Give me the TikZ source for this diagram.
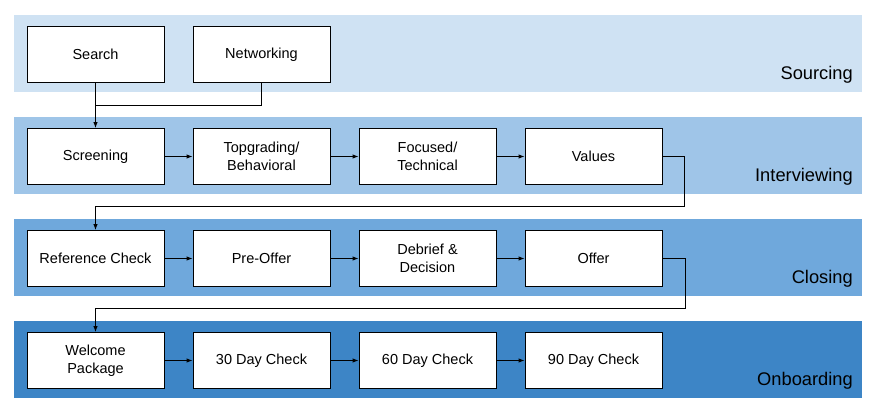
\documentclass[tikz,border=0pt]{standalone}
\usepackage{fontspec}
\setmainfont{Liberation Sans}
\usetikzlibrary{arrows.meta}
\definecolor{bandA}{HTML}{CFE2F3}
\definecolor{bandB}{HTML}{9FC5E8}
\definecolor{bandC}{HTML}{6FA8DC}
\definecolor{bandD}{HTML}{3D85C6}
\tikzset{
  stepbox/.style={draw=black, fill=white, line width=0.9pt, minimum width=137pt, minimum height=56pt, inner sep=0pt, align=center, font=\fontsize{14.5}{18}\selectfont},
  bandlabel/.style={anchor=east, inner sep=0pt, font=\fontsize{18.3}{22}\selectfont},
  conn/.style={line width=0.9pt, draw=black},
  arr/.style={conn, -{Latex[length=6pt,width=4.5pt]}}
}
\begin{document}
\begin{tikzpicture}[x=1pt,y=-1pt]
\useasboundingbox (0,0) rectangle (878,411);
% bands
\fill[bandA] (14,15) rectangle (862,92);
\fill[bandB] (14,117) rectangle (862,194);
\fill[bandC] (14,219) rectangle (862,296);
\fill[bandD] (14,321) rectangle (862,398);
\node[bandlabel] (lsrc) at (853,74.5) {Sourcing};
\node[bandlabel] (lint) at (853,176.5) {Interviewing};
\node[bandlabel] (lclo) at (853,278.5) {Closing};
\node[bandlabel] (lonb) at (853,380.5) {Onboarding};
% row 1
\node[stepbox] (search) at (95.5,54.5) {Search};
\node[stepbox] (net) at (261.5,54.5) {Networking};
% row 2
\node[stepbox] (scr) at (95.5,156.5) {Screening};
\node[stepbox] (top) at (261.5,156.5) {Topgrading/\\Behavioral};
\node[stepbox] (foc) at (427.5,156.5) {Focused/\\Technical};
\node[stepbox] (val) at (593.5,156.5) {Values};
% row 3
\node[stepbox] (ref) at (95.5,258.5) {Reference Check};
\node[stepbox] (pre) at (261.5,258.5) {Pre-Offer};
\node[stepbox] (deb) at (427.5,258.5) {Debrief \&\\Decision};
\node[stepbox] (off) at (593.5,258.5) {Offer};
% row 4
\node[stepbox] (wel) at (95.5,360.5) {Welcome\\Package};
\node[stepbox] (d30) at (261.5,360.5) {30 Day Check};
\node[stepbox] (d60) at (427.5,360.5) {60 Day Check};
\node[stepbox] (d90) at (593.5,360.5) {90 Day Check};
% connectors
\coordinate (j1) at (95.5,105);
\coordinate (c1) at (684,156.5);
\coordinate (c2) at (684,206);
\coordinate (c3) at (95.5,206);
\coordinate (d1) at (685,258.5);
\coordinate (d2) at (685,308);
\coordinate (d3) at (95.5,308);
\draw[arr] (search.south) -- (scr.north);
\draw[conn] (net.south) |- (j1);
\draw[arr] (scr) -- (top);
\draw[arr] (top) -- (foc);
\draw[arr] (foc) -- (val);
\draw[arr] (val.east) -- (c1) -- (c2) -- (c3) -- (ref.north);
\draw[arr] (ref) -- (pre);
\draw[arr] (pre) -- (deb);
\draw[arr] (deb) -- (off);
\draw[arr] (off.east) -- (d1) -- (d2) -- (d3) -- (wel.north);
\draw[arr] (wel) -- (d30);
\draw[arr] (d30) -- (d60);
\draw[arr] (d60) -- (d90);
\end{tikzpicture}
\end{document}
